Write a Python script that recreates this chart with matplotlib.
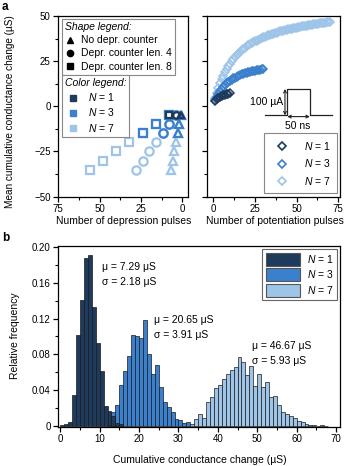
import matplotlib
matplotlib.use('Agg')
import matplotlib.pyplot as plt
from matplotlib.lines import Line2D
from matplotlib.patches import Patch
from matplotlib.ticker import MultipleLocator

plt.rcParams['font.family'] = ['Liberation Sans', 'DejaVu Sans']
plt.rcParams['mathtext.fontset'] = 'custom'
plt.rcParams['mathtext.it'] = 'Liberation Sans:italic'
plt.rcParams['mathtext.rm'] = 'Liberation Sans'
plt.rcParams['mathtext.sf'] = 'Liberation Sans'

C_DARK = '#1e3a5c'
C_MID = '#3b80cc'
C_LIGHT = '#9ec4e8'
COLORS = {1: C_DARK, 3: C_MID, 7: C_LIGHT}

N_values = [1, 3, 7]
N_labels = [r'$N$ = 1', r'$N$ = 3', r'$N$ = 7']

# ---- panel a, left: depression
depr_y = [-5, -10, -15, -20, -25, -30, -35]
tri_x = [1, 2, 3, 4, 5, 6, 7]          # no depression counter
circ_x = [4, 8, 12, 16, 20, 24, 28]    # counter length 4
sq_x = [8, 16, 24, 32, 40, 48, 56]     # counter length 8

# ---- panel a, right: potentiation (mean cumulative change per pulse)
pot_n1 = [3.0, 3.8, 4.5, 5.1, 5.6, 6.0, 6.4, 6.7, 7.0, 7.3]
pot_n3 = [3.6, 5.4, 7.0, 8.4, 9.7, 10.8, 11.8, 12.7, 13.5, 14.2,
          14.8, 15.4, 15.9, 16.4, 16.8, 17.2, 17.6, 17.9, 18.2, 18.5,
          18.8, 19.0, 19.3, 19.5, 19.7, 19.9, 20.1, 20.3, 20.5, 20.65]
pot_n7 = [4.5, 7.5, 10.2, 12.7, 15.0, 17.0, 18.9, 20.6, 22.2, 23.6,
          24.9, 26.1, 27.2, 28.2, 29.2, 30.1, 30.9, 31.7, 32.4, 33.1,
          33.7, 34.3, 34.9, 35.4, 35.9, 36.4, 36.9, 37.3, 37.7, 38.1,
          38.5, 38.9, 39.2, 39.6, 39.9, 40.2, 40.5, 40.8, 41.1, 41.4,
          41.6, 41.9, 42.1, 42.4, 42.6, 42.8, 43.0, 43.2, 43.4, 43.6,
          43.8, 44.0, 44.2, 44.4, 44.5, 44.7, 44.9, 45.0, 45.2, 45.3,
          45.5, 45.6, 45.8, 45.9, 46.0, 46.2, 46.3, 46.4, 46.5, 46.7]

# ---- panel b: histograms (1 uS bins, first bin left edge given)
h1_start = 0
h1 = [0.0015, 0.002, 0.0045, 0.035, 0.102, 0.141, 0.188, 0.191, 0.133, 0.093,
      0.062, 0.022, 0.017, 0.011, 0.004, 0.002]
h3_start = 12
h3 = [0.005, 0.016, 0.023, 0.046, 0.062, 0.078, 0.102, 0.100, 0.098, 0.118,
      0.080, 0.058, 0.068, 0.044, 0.027, 0.021, 0.016, 0.0075, 0.007, 0.003,
      0.0045]
h7_start = 33
h7 = [0.002, 0.0075, 0.013, 0.009, 0.027, 0.032, 0.043, 0.046, 0.052, 0.058,
      0.063, 0.066, 0.077, 0.072, 0.057, 0.067, 0.045, 0.058, 0.044, 0.049,
      0.033, 0.034, 0.024, 0.016, 0.013, 0.011, 0.0085, 0.006, 0.005, 0.002,
      0.0015, 0.001, 0.0005, 0.0015, 0.0005]
stats_text = ['μ = 7.29 μS\nσ = 2.18 μS', 'μ = 20.65 μS\nσ = 3.91 μS',
              'μ = 46.67 μS\nσ = 5.93 μS']
stats_pos = [(10.7, 0.169), (23.9, 0.110), (48.7, 0.081)]

FS = 7
LFS = 7.5

fig = plt.figure(figsize=(3.47, 4.66), dpi=100)
ax1 = fig.add_axes([0.168, 0.578, 0.3746, 0.3878])
ax2 = fig.add_axes([0.5974, 0.578, 0.382, 0.3878])
ax3 = fig.add_axes([0.168, 0.0843, 0.8118, 0.3888])


def style(ax):
    for s in ax.spines.values():
        s.set_linewidth(0.9)
    ax.tick_params(which='major', direction='out', length=3.5, width=0.9,
                   labelsize=FS, pad=2)
    ax.tick_params(which='minor', direction='out', length=2, width=0.8)


def frame(leg):
    leg.get_frame().set_linewidth(0.8)


# ---------------- left panel
for N in [7, 3, 1]:
    c = COLORS[N]
    ms = 4.2 if N == 1 else 5.5
    ax1.plot(sq_x[:N], depr_y[:N], 's', ms=ms, mfc='none', mec=c, mew=1.6,
             zorder=3)
    ax1.plot(circ_x[:N], depr_y[:N], 'o', ms=ms + 0.5, mfc='none', mec=c,
             mew=1.6, zorder=3)
    ax1.plot(tri_x[:N], depr_y[:N], '^', ms=ms + 0.8, mfc='none', mec=c,
             mew=1.6, zorder=3)
ax1.set_xlim(75, -3.5)
ax1.set_ylim(-50, 50)
ax1.xaxis.set_major_locator(MultipleLocator(25))
ax1.xaxis.set_minor_locator(MultipleLocator(12.5))
ax1.yaxis.set_major_locator(MultipleLocator(25))
ax1.yaxis.set_minor_locator(MultipleLocator(12.5))
style(ax1)
ax1.set_xlabel('Number of depression pulses', fontsize=LFS)
ax1.xaxis.set_label_coords(0.5, -0.105)
ax1.set_ylabel('Mean cumulative conductance change (µS)', fontsize=7.2)
ax1.yaxis.set_label_coords(-0.335, 0.47)

shape_handles = [Line2D([], [], marker=m, color='black', ls='none', ms=4.5)
                 for m in ['^', 'o', 's']]
leg1 = ax1.legend(shape_handles, ['No depr. counter', 'Depr. counter len. 4',
                                  'Depr. counter len. 8'],
                  loc='upper left', bbox_to_anchor=(0.026, 0.983),
                  borderaxespad=0, fontsize=LFS, title='Shape legend:',
                  title_fontproperties={'style': 'italic', 'size': LFS},
                  alignment='left', frameon=True, fancybox=False,
                  edgecolor='#888888', framealpha=1, handlelength=1.0,
                  handletextpad=0.6, labelspacing=0.3, borderpad=0.3)
frame(leg1)
ax1.add_artist(leg1)
color_handles = [Line2D([], [], marker='s', color=COLORS[N], ls='none', ms=4.5)
                 for N in N_values]
leg2 = ax1.legend(color_handles, N_labels, loc='upper left',
                  bbox_to_anchor=(0.026, 0.673), borderaxespad=0,
                  fontsize=LFS, title='Color legend:',
                  title_fontproperties={'style': 'italic', 'size': LFS},
                  alignment='left', frameon=True, fancybox=False,
                  edgecolor='#888888', framealpha=1, handlelength=1.6,
                  handletextpad=0.6, labelspacing=0.3, borderpad=0.3)
frame(leg2)

# ---------------- right panel
pots = {1: pot_n1, 3: pot_n3, 7: pot_n7}
for N in [7, 3, 1]:
    ys = pots[N]
    xs = list(range(1, len(ys) + 1))
    ax2.plot(xs, ys, 'D', ms=3.6, mfc='none', mec=COLORS[N], mew=1.1,
             zorder=3)
ax2.set_xlim(-3.6, 76)
ax2.set_ylim(-50, 50)
ax2.xaxis.set_major_locator(MultipleLocator(25))
ax2.xaxis.set_minor_locator(MultipleLocator(12.5))
ax2.yaxis.set_major_locator(MultipleLocator(25))
ax2.yaxis.set_minor_locator(MultipleLocator(12.5))
style(ax2)
ax2.set_yticklabels([])
ax2.set_xlabel('Number of potentiation pulses', fontsize=LFS)
ax2.xaxis.set_label_coords(0.51, -0.105)
pot_handles = [Line2D([], [], marker='D', ls='none', ms=4, mfc='none',
                      mec=COLORS[N], mew=1.2) for N in N_values]
leg3 = ax2.legend(pot_handles, N_labels, loc='lower right',
                  bbox_to_anchor=(0.975, 0.019), borderaxespad=0,
                  fontsize=LFS, frameon=True, fancybox=False,
                  edgecolor='#888888', framealpha=1, handlelength=2.2,
                  handletextpad=1.0, labelspacing=0.55, borderpad=0.6)
frame(leg3)

# pulse schematic (axes coordinates)
T = ax2.transAxes
ax2.plot([0.435, 0.603, 0.603, 0.774, 0.774, 0.9375],
         [0.452, 0.452, 0.594, 0.594, 0.452, 0.452], color='#222222',
         lw=0.9, transform=T)
ax2.annotate('', xy=(0.586, 0.596), xytext=(0.586, 0.450), xycoords=T,
             textcoords=T, arrowprops=dict(arrowstyle='<->', lw=0.8,
                                           color='#222222',
                                           shrinkA=0, shrinkB=0,
                                           mutation_scale=5))
ax2.annotate('', xy=(0.603, 0.443), xytext=(0.774, 0.443), xycoords=T,
             textcoords=T, arrowprops=dict(arrowstyle='<->', lw=0.8,
                                           color='#222222',
                                           shrinkA=0, shrinkB=0,
                                           mutation_scale=5))
ax2.text(0.572, 0.524, '100 µA', transform=T, ha='right', va='center',
         fontsize=LFS)
ax2.text(0.684, 0.392, '50 ns', transform=T, ha='center', va='center',
         fontsize=LFS)

# ---------------- panel b
hists = [(h7_start, h7, C_LIGHT, 1), (h3_start, h3, C_MID, 2),
         (h1_start, h1, C_DARK, 3)]
for start, vals, c, z in hists:
    lefts = [start + i for i in range(len(vals))]
    ax3.bar(lefts, vals, width=1.0, align='edge', color=c,
            edgecolor='#1a1a1a', linewidth=0.5, zorder=z)
ax3.set_xlim(-0.5, 71)
ax3.set_ylim(-0.0007, 0.2015)
ax3.xaxis.set_major_locator(MultipleLocator(10))
ax3.xaxis.set_minor_locator(MultipleLocator(5))
ax3.yaxis.set_minor_locator(MultipleLocator(0.02))
ax3.set_yticks([0, 0.04, 0.08, 0.12, 0.16, 0.20])
ax3.set_yticklabels(['0', '0.04', '0.08', '0.12', '0.16', '0.20'])
style(ax3)
ax3.set_xlabel('Cumulative conductance change (µS)', fontsize=LFS)
ax3.xaxis.set_label_coords(0.503, -0.155)
ax3.set_ylabel('Relative frequency', fontsize=LFS)
ax3.yaxis.set_label_coords(-0.135, 0.5)
for txt, (x, y) in zip(stats_text, stats_pos):
    ax3.text(x, y, txt, fontsize=LFS, ha='left', va='center',
             linespacing=1.6)
hist_handles = [Patch(facecolor=COLORS[N], edgecolor='#555555', lw=0.8)
                for N in N_values]
leg4 = ax3.legend(hist_handles, N_labels, loc='upper right',
                  bbox_to_anchor=(0.989, 0.981), borderaxespad=0,
                  fontsize=LFS, frameon=True, fancybox=False,
                  edgecolor='#666666', framealpha=1, handlelength=3.3,
                  handleheight=1.5, handletextpad=0.6, labelspacing=0.25,
                  borderpad=0.35)
frame(leg4)

fig.text(0.006, 0.997, 'a', fontsize=8.5, fontweight='bold', va='top')
fig.text(0.006, 0.503, 'b', fontsize=8.5, fontweight='bold', va='top')

fig.savefig('out.png', dpi=100)
